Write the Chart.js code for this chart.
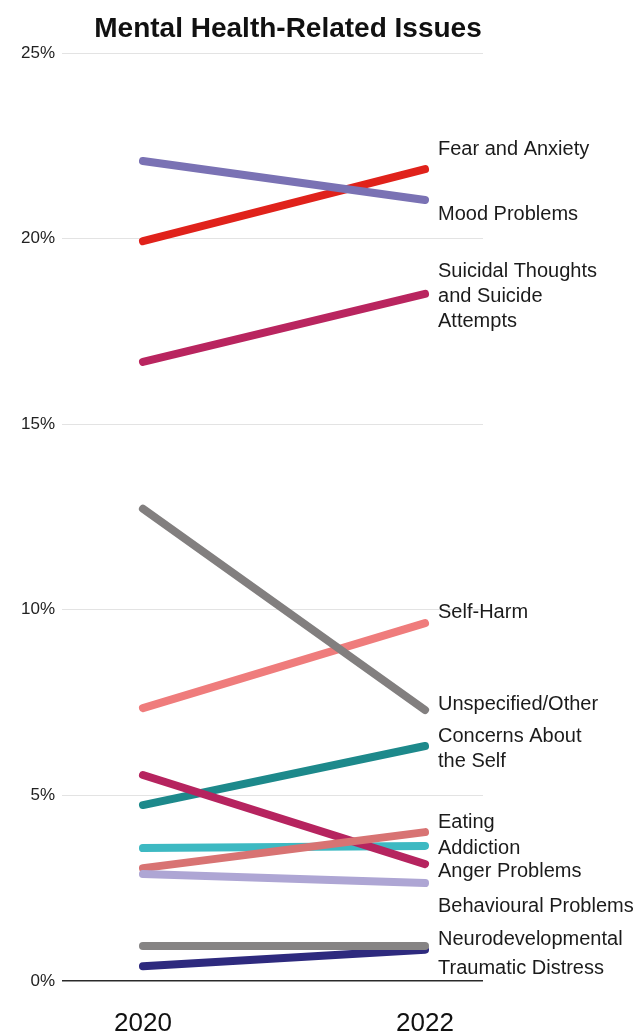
<!DOCTYPE html>
<html>
<head>
<meta charset="utf-8">
<script src="https://cdn.jsdelivr.net/npm/chart.js@4/dist/chart.umd.min.js"></script>
<style>
  html, body { margin: 0; padding: 0; background: #fff; }
  #wrap { width: 643px; height: 1035px; position: relative; }
</style>
</head>
<body>
<div id="wrap"><canvas id="chart"></canvas></div>
<script>
// Share of mental health-related issues, 2020 vs 2022 (percent)
const years = [2020, 2022];

// listed from the bottom drawing layer to the top one
const issueNames = [
  'Fear and Anxiety',
  'Mood Problems',
  'Suicidal Thoughts\nand Suicide\nAttempts',
  'Self-Harm',
  'Unspecified/Other',
  'Concerns About\nthe Self',
  'Addiction',
  'Anger Problems',
  'Eating',
  'Behavioural Problems',
  'Traumatic Distress',
  'Neurodevelopmental'
];
const values2020 = [19.93, 22.09, 16.68, 7.35, 12.72, 4.74, 3.58, 5.55, 3.04, 2.88, 0.40, 0.94];
const values2022 = [21.87, 21.04, 18.51, 9.64, 7.30, 6.33, 3.64, 3.15, 4.01, 2.64, 0.84, 0.94];

// value on the % axis where each end label is centred
const labelAt = [22.41, 20.64, 18.45, 9.94, 7.46, 6.24, 3.56, 2.96, 4.26, 2.02, 0.35, 1.13];

const lineColors = [
  '#e0221b', '#7a72b4', '#b9255f', '#ef7c7c', '#827f7f', '#1d898b',
  '#3db9c2', '#b6245f', '#d87373', '#aea6d4', '#2e2a7e', '#868484'
];

const yTicks = [0, 5, 10, 15, 20, 25];

const FONT = '"Liberation Sans", Arial, Helvetica, sans-serif';

const datasets = issueNames.map((name, i) => ({
  label: name.replace(/\n/g, ' '),
  data: years.map((yr, j) => ({ x: yr, y: j === 0 ? values2020[i] : values2022[i] })),
  borderColor: lineColors[i],
  backgroundColor: lineColors[i],
  borderWidth: 8,
  borderCapStyle: 'round',
  pointRadius: 0,
  pointHoverRadius: 0,
  fill: false,
  tension: 0,
  order: issueNames.length - i
}));

const endLabels = {
  id: 'endLabels',
  afterDatasetsDraw(chart) {
    const { ctx, scales } = chart;
    const x = scales.x.getPixelForValue(years[1]) + 13;
    ctx.save();
    ctx.font = '20px ' + FONT;
    ctx.fillStyle = '#1b1b1b';
    ctx.textAlign = 'left';
    ctx.textBaseline = 'middle';
    issueNames.forEach((name, i) => {
      const lines = name.split('\n');
      const lh = 25;
      const cy = scales.y.getPixelForValue(labelAt[i]);
      const y0 = cy - (lines.length - 1) * lh / 2;
      lines.forEach((ln, k) => ctx.fillText(ln, x, y0 + k * lh));
    });
    ctx.restore();
  }
};

const titlePlugin = {
  id: 'titleText',
  afterDraw(chart) {
    const { ctx } = chart;
    ctx.save();
    ctx.font = 'bold 28px ' + FONT;
    ctx.fillStyle = '#111';
    ctx.textAlign = 'center';
    ctx.textBaseline = 'alphabetic';
    ctx.fillText('Mental Health-Related Issues', 288, 37);
    ctx.restore();
  }
};

new Chart(document.getElementById('chart'), {
  type: 'line',
  data: { datasets },
  plugins: [endLabels, titlePlugin],
  options: {
    responsive: true,
    maintainAspectRatio: false,
    animation: false,
    layout: { padding: { top: 53, right: 160, left: 0, bottom: 0 } },
    plugins: {
      legend: { display: false },
      title: { display: false },
      tooltip: { enabled: false }
    },
    scales: {
      x: {
        type: 'linear',
        min: 2019.426,
        max: 2022.411,
        afterBuildTicks(scale) { scale.ticks = years.map(v => ({ value: v })); },
        afterFit(scale) { scale.height = 54; },
        grid: { display: false, drawTicks: false },
        border: { display: false },
        ticks: {
          padding: 27,
          color: '#111',
          font: { family: FONT, size: 26 },
          callback: v => String(v)
        }
      },
      y: {
        type: 'linear',
        min: 0,
        max: 25,
        afterBuildTicks(scale) { scale.ticks = yTicks.map(v => ({ value: v })); },
        afterFit(scale) { scale.width = 62; },
        grid: {
          drawTicks: false,
          lineWidth: ctx => (ctx.tick && ctx.tick.value === 0 ? 1.5 : 1),
          color: ctx => (ctx.tick && ctx.tick.value === 0 ? '#2a2a2a' : '#e3e3e3')
        },
        border: { display: false },
        ticks: {
          padding: 7,
          color: '#222',
          font: { family: FONT, size: 17 },
          callback: v => v + '%'
        }
      }
    }
  }
});
</script>
</body>
</html>
